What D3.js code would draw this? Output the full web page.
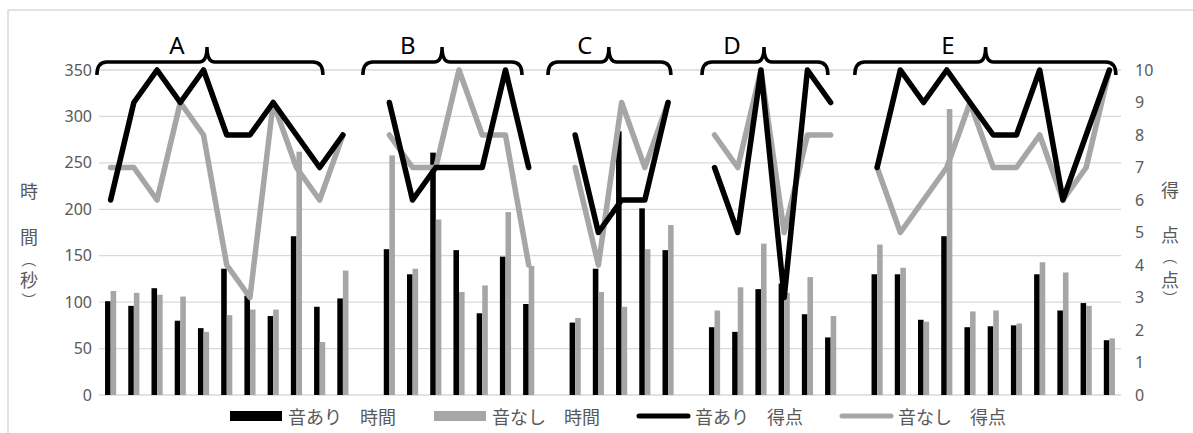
<!doctype html>
<html lang="ja">
<head>
  <meta charset="utf-8">
  <title>音あり・音なし 時間と得点</title>
  <script src="https://cdn.jsdelivr.net/npm/d3@7"></script>
  <style>
    body { margin: 0; overflow: hidden; background: #fff; }
    text { font-family: "Noto Sans", "Noto Sans CJK JP", sans-serif; }
    .cjk { font-family: "Noto Sans CJK JP", sans-serif; }
  </style>
</head>
<body>
<script>
  // groups in category order, a blank slot sits between two groups
  const groups = ["A", "B", "C", "D", "E"];
  const groupSizes = [11, 7, 5, 6, 11];

  // 時間 (秒)
  const timeWith = [
    [101, 96, 115, 80, 72, 136, 107, 85, 171, 95, 104],
    [157, 130, 261, 156, 88, 149, 98],
    [78, 136, 284, 201, 156],
    [73, 68, 114, 120, 87, 62],
    [130, 130, 81, 171, 73, 74, 75, 130, 91, 99, 59]
  ];
  const timeWithout = [
    [112, 110, 108, 106, 68, 86, 92, 92, 262, 57, 134],
    [258, 136, 189, 111, 118, 197, 139],
    [83, 111, 95, 157, 183],
    [91, 116, 163, 110, 127, 85],
    [162, 137, 79, 308, 90, 91, 77, 143, 132, 96, 61]
  ];
  // 得点 (点)
  const scoreWith = [
    [6, 9, 10, 9, 10, 8, 8, 9, 8, 7, 8],
    [9, 6, 7, 7, 7, 10, 7],
    [8, 5, 6, 6, 9],
    [7, 5, 10, 3, 10, 9],
    [7, 10, 9, 10, 9, 8, 8, 10, 6, 8, 10]
  ];
  const scoreWithout = [
    [7, 7, 6, 9, 8, 4, 3, 9, 7, 6, 8],
    [8, 7, 7, 10, 8, 8, 4],
    [7, 4, 9, 7, 9],
    [8, 7, 10, 5, 8, 8],
    [7, 5, 6, 7, 9, 7, 7, 8, 6, 7, 10]
  ];

  const leftTicks = [0, 50, 100, 150, 200, 250, 300, 350];
  const rightTicks = [0, 1, 2, 3, 4, 5, 6, 7, 8, 9, 10];
  const legendLabels = ["音あり　時間", "音なし　時間", "音あり　得点", "音なし　得点"];
  const leftTitle = ["時", "間", "（", "秒", "）"];
  const rightTitle = ["得", "点", "（", "点", "）"];

  // brace annotation in category units: start, tip, end, label position
  const braces = [
    { name: "A", from: -0.09, tip: 4.65, to: 9.64, label: 3.35 },
    { name: "B", from: 11.36, tip: 14.77, to: 18.21, label: 13.3 },
    { name: "C", from: 19.33, tip: 21.95, to: 24.62, label: 20.92 },
    { name: "D", from: 25.96, tip: 28.63, to: 31.38, label: 27.25 },
    { name: "E", from: 32.54, tip: 38.17, to: 43.78, label: 36.55 }
  ];

  // flatten groups into one category list with null gaps
  let categories = [], tW = [], tWo = [], sW = [], sWo = [];
  groups.forEach((g, gi) => {
    if (gi > 0) {
      categories.push("gap" + gi);
      tW.push(null); tWo.push(null); sW.push(null); sWo.push(null);
    }
    for (let k = 0; k < groupSizes[gi]; k++) {
      categories.push(g + (k + 1));
      tW.push(timeWith[gi][k]);
      tWo.push(timeWithout[gi][k]);
      sW.push(scoreWith[gi][k]);
      sWo.push(scoreWithout[gi][k]);
    }
  });

  const W = 1193, H = 433;
  const plot = { left: 99, right: 1121, top: 70, bottom: 395 };
  const black = "#000000", gray = "#a6a6a6", grid = "#d9d9d9", txt = "#595959";

  const svg = d3.select("body").append("svg")
    .attr("width", W).attr("height", H);

  svg.append("rect").attr("width", W).attr("height", H).attr("fill", "#fff");

  // chart border (only top and left edge are inside the picture)
  svg.append("path")
    .attr("d", `M8,${H} L8,10 L${W},10`)
    .attr("fill", "none").attr("stroke", grid).attr("stroke-width", 1.5);

  const x = d3.scaleBand()
    .domain(categories)
    .range([plot.left, plot.right])
    .paddingInner(0.52).paddingOuter(0.26);
  const xSub = d3.scaleBand()
    .domain(["with", "without"])
    .range([0, x.bandwidth()]);
  const xu = d3.scaleLinear()
    .domain([0, categories.length])
    .range([plot.left, plot.right]);
  const yL = d3.scaleLinear().domain([0, 350]).range([plot.bottom, plot.top]);
  const yR = d3.scaleLinear().domain([0, 10]).range([plot.bottom, plot.top]);

  // gridlines
  svg.append("g").selectAll("line").data(leftTicks).join("line")
    .attr("x1", plot.left).attr("x2", plot.right)
    .attr("y1", d => yL(d)).attr("y2", d => yL(d))
    .attr("stroke", grid).attr("stroke-width", 1.3);

  // axes
  const leftAxis = svg.append("g")
    .attr("transform", `translate(${plot.left - 7},0)`)
    .call(d3.axisLeft(yL).tickValues(leftTicks).tickSize(0).tickPadding(0));
  const rightAxis = svg.append("g")
    .attr("transform", `translate(${plot.right + 14},0)`)
    .call(d3.axisRight(yR).tickValues(rightTicks).tickSize(0).tickPadding(0));
  [leftAxis, rightAxis].forEach(a => {
    a.select(".domain").remove();
    a.selectAll("text")
      .attr("fill", txt)
      .style("font-family", '"Noto Sans", sans-serif')
      .style("font-size", "16px");
  });

  // axis titles, stacked characters; brackets turned a quarter
  function stackTitle(chars, cx, ys) {
    svg.append("g").selectAll("text").data(chars).join("text")
      .attr("class", "cjk")
      .attr("text-anchor", "middle").attr("dominant-baseline", "central")
      .attr("transform", (d, i) => `translate(${cx},${ys[i]})` + (d === "（" || d === "）" ? " rotate(90)" : ""))
      .attr("fill", txt).style("font-size", (d) => (d === "（" || d === "）") ? "15px" : "18px")
      .text(d => d);
  }
  stackTitle(leftTitle, 29, [190, 236, 260, 279, 300]);
  stackTitle(rightTitle, 1170, [189, 234, 257, 279, 298]);

  // bars
  const barGroup = svg.append("g");
  barGroup.selectAll("rect.w").data(categories.map((c, i) => ({ c, v: tW[i] })).filter(d => d.v != null))
    .join("rect").attr("class", "w")
    .attr("x", d => x(d.c) + xSub("with"))
    .attr("width", xSub.bandwidth())
    .attr("y", d => yL(d.v))
    .attr("height", d => yL(0) - yL(d.v))
    .attr("fill", black);
  barGroup.selectAll("rect.wo").data(categories.map((c, i) => ({ c, v: tWo[i] })).filter(d => d.v != null))
    .join("rect").attr("class", "wo")
    .attr("x", d => x(d.c) + xSub("without"))
    .attr("width", xSub.bandwidth())
    .attr("y", d => yL(d.v))
    .attr("height", d => yL(0) - yL(d.v))
    .attr("fill", gray);

  // lines
  const line = d3.line()
    .defined(d => d.v != null)
    .x(d => x(d.c) + x.bandwidth() / 2)
    .y(d => yR(d.v));
  svg.append("path")
    .datum(categories.map((c, i) => ({ c, v: sWo[i] })))
    .attr("d", line)
    .attr("fill", "none").attr("stroke", gray).attr("stroke-width", 5.5)
    .attr("stroke-linejoin", "round").attr("stroke-linecap", "round");
  svg.append("path")
    .datum(categories.map((c, i) => ({ c, v: sW[i] })))
    .attr("d", line)
    .attr("fill", "none").attr("stroke", black).attr("stroke-width", 5.5)
    .attr("stroke-linejoin", "round").attr("stroke-linecap", "round");

  // braces with group letters
  const yH = 62, yEnd = 75, yTip = 47;
  const bg = svg.append("g");
  braces.forEach(b => {
    const x0 = xu(b.from), x1 = xu(b.to), xt = xu(b.tip);
    const p = d3.path();
    p.moveTo(x0, yEnd);
    p.quadraticCurveTo(x0, yH, x0 + 10, yH);
    p.lineTo(xt - 8, yH);
    p.quadraticCurveTo(xt, yH, xt, yTip);
    p.quadraticCurveTo(xt, yH, xt + 8, yH);
    p.lineTo(x1 - 10, yH);
    p.quadraticCurveTo(x1, yH, x1, yEnd);
    bg.append("path").attr("d", p.toString())
      .attr("fill", "none").attr("stroke", black).attr("stroke-width", 3.5);
    bg.append("text")
      .attr("x", xu(b.label)).attr("y", 54)
      .attr("text-anchor", "middle")
      .attr("fill", black).style("font-size", "24px")
      .text(b.name);
  });

  // legend
  const legend = svg.append("g");
  const legendX = [230, 434, 637, 840];
  const legendY = 416;
  legendLabels.forEach((lab, i) => {
    const lx = legendX[i];
    if (i < 2) {
      legend.append("rect")
        .attr("x", lx).attr("y", legendY - 5).attr("width", 52).attr("height", 10)
        .attr("fill", i === 0 ? black : gray);
    } else {
      legend.append("line")
        .attr("x1", lx + 2).attr("x2", lx + 51)
        .attr("y1", legendY).attr("y2", legendY)
        .attr("stroke", i === 2 ? black : gray).attr("stroke-width", 5)
        .attr("stroke-linecap", "round");
    }
    legend.append("text")
      .attr("class", "cjk")
      .attr("x", lx + 58).attr("y", legendY)
      .attr("dominant-baseline", "central")
      .attr("fill", txt).style("font-size", "18px")
      .text(lab);
  });
</script>
</body>
</html>
